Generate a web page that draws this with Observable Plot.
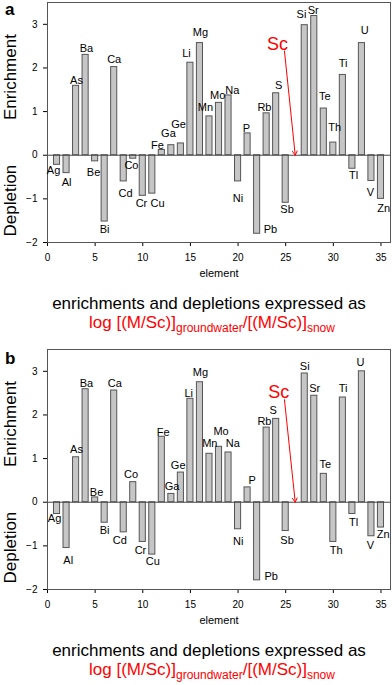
<!DOCTYPE html>
<html>
<head>
<meta charset="utf-8">
<script src="https://cdn.jsdelivr.net/npm/d3@7"></script>
<script src="https://cdn.jsdelivr.net/npm/@observablehq/plot@0.6"></script>
<style>
  html, body { margin: 0; padding: 0; background: #fff; }
  body { width: 392px; height: 685px; position: relative; overflow: hidden; font-family: "Liberation Sans", Arial, sans-serif; }
  .panel { position: absolute; left: 0; width: 392px; height: 347px; }
  .panel svg { position: absolute; left: 0; top: 0; }
  .letter { position: absolute; left: 5px; font-weight: bold; font-size: 17px; line-height: 17px; color: #000; }
  .cap1 { position: absolute; left: 13px; width: 392px; text-align: center; font-size: 17px; line-height: 19px; color: #000; white-space: nowrap; }
  .cap2 { position: absolute; left: 16px; width: 392px; text-align: center; font-size: 17px; line-height: 19px; color: #f00; white-space: nowrap; }
  .cap2 sub { font-size: 12px; vertical-align: -4px; line-height: 0; }
</style>
</head>
<body>
<script>
// ---------------- data ----------------
const elements = ["Ag","Al","As","Ba","Be","Bi","Ca","Cd","Co","Cr","Cu","Fe","Ga","Ge","Li","Mg","Mn","Mo","Na","Ni","P","Pb","Rb","S","Sb","Sc","Si","Sr","Te","Th","Ti","Tl","U","V","Zn"];
const elementIndex = elements.map((_, i) => i + 1);
const valuesA = [-0.22,-0.41,1.59,2.30,-0.14,-1.52,2.02,-0.60,-0.08,-0.93,-0.88,0.12,0.23,0.27,2.12,2.57,0.89,1.20,1.37,-0.60,0.50,-1.80,0.96,1.42,-1.09,null,2.98,3.19,1.07,0.29,1.84,-0.31,2.57,-0.59,-1.00];
const valuesB = [-0.27,-1.05,1.03,2.59,0.11,-0.47,2.56,-0.69,0.46,-0.91,-1.20,1.50,0.19,0.68,2.37,2.75,1.11,1.27,1.14,-0.62,0.34,-1.79,1.71,1.91,-0.66,null,2.95,2.44,0.65,-0.91,2.40,-0.27,3.00,-0.78,-0.58];
const xTicks = [0,5,10,15,20,25,30,35];
const yTicks = [-2,-1,0,1,2,3];
const panelLetters = ["a","b"];
const referenceElement = "Sc";

// ---------------- label nudges (px, relative to bar end) ----------------
const nudgeA = {Ag:[-3.5,5.7],Al:[0,9.3],As:[0.4,-5.7],Ba:[0.9,-6.7],Be:[-1.6,10.7],Bi:[0,8],Ca:[0,-8],Cd:[1.8,11.7],Co:[-1.8,6.7],Cr:[-1.3,8],Cu:[5.2,10.3],Fe:[-4.4,-5],Ga:[-2.9,-11.3],Ge:[-2.4,-19.3],Li:[-4,-9.7],Mg:[0.5,-10.3],Mn:[-4,-8.6],Mo:[-1.3,-7.3],Na:[3.7,-5],Ni:[0,16.6],P:[-1.1,-5],Pb:[13.3,-4],Rb:[-2.2,-5.6],S:[2.6,-8],Sb:[1.4,7],Si:[-3.3,-10.7],Sr:[-1.1,-5.4],Te:[0.9,-11.7],Th:[1.4,-14.7],Ti:[0.3,-11.4],Tl:[1.3,6.7],U:[2.8,-12.7],V:[-1,11.4],Zn:[2.8,10]};
const nudgeB = {Ag:[-2.5,4],Al:[1.7,12.7],As:[0.4,-8],Ba:[0.9,-5.7],Be:[1.4,-5],Bi:[0,7.3],Ca:[0.6,-7],Cd:[-3.9,8],Co:[-2.1,-7.3],Cr:[-2.3,9],Cu:[0.5,7.3],Fe:[1.3,-4],Ga:[0.8,-7.3],Ge:[-2.7,-7.3],Li:[-1.7,-5],Mg:[0.5,-9.7],Mn:[0.3,-10.4],Mo:[2.1,-15],Na:[4.3,-9],Ni:[0.1,11.7],P:[4.6,-7.3],Pb:[14,-3.4],Rb:[-2.2,-6.6],S:[-3,-8.7],Sb:[1.4,9],Si:[0,-6.6],Sr:[0.5,-7],Te:[1.6,-9.7],Th:[2.8,8.7],Ti:[0.3,-9],Tl:[1.3,8.7],U:[-1.5,-9],V:[-1,9.3],Zn:[2.2,7.3]};
// Sc annotation anchor (label centre and arrow start, in data units)
const scNoteA = {tx: 24.15, ty: 2.54, ax: 24.87, ay: 2.39};
const scNoteB = {tx: 24.27, ty: 2.52, ax: 24.87, ay: 2.35};

// ---------------- layout ----------------
const W = 392, H = 285;
const mL = 47, mR = 2, mT = 2, mB = 43;
const xDom = [0, 36], yDom = [-2, 3.5];
const pxX = (W - mL - mR) / (xDom[1] - xDom[0]);
const pxY = (H - mT - mB) / (yDom[1] - yDom[0]);
const font = "'Liberation Sans', Arial, sans-serif";

function makeChart(values, nudge, note) {
  const rows = elements.map((e, i) => ({name: e, x: elementIndex[i], v: values[i]}));
  const bars = rows.filter(d => d.v != null);
  const labels = bars.map(d => {
    const n = nudge[d.name] || [0, d.v >= 0 ? -7 : 8];
    return {name: d.name, lx: d.x + n[0] / pxX, ly: d.v - n[1] / pxY};
  });
  return Plot.plot({
    width: W, height: H,
    marginLeft: mL, marginRight: mR, marginTop: mT, marginBottom: mB,
    style: {fontFamily: font, fontSize: "10px", color: "#000", background: "#fff", overflow: "visible"},
    x: {domain: xDom, ticks: xTicks, tickSize: 4, tickPadding: 7, label: null, tickFormat: d3.format("d")},
    y: {domain: yDom, ticks: yTicks, tickSize: 4, tickPadding: 6, label: null, tickFormat: d3.format("d")},
    marks: [
      Plot.rect(bars, {x1: d => d.x - 0.32, x2: d => d.x + 0.32, y1: 0, y2: "v", fill: "#c6c6c6", stroke: "#555", strokeWidth: 1}),
      Plot.ruleY([0], {stroke: "#444", strokeWidth: 1}),
      Plot.frame({stroke: "#555", strokeWidth: 1}),
      Plot.text(labels, {x: "lx", y: "ly", text: "name", fontSize: 11, fill: "#000"}),
      Plot.arrow([note], {x1: "ax", y1: "ay", x2: () => elementIndex[elements.indexOf(referenceElement)], y2: () => 0, stroke: "#f00", strokeWidth: 1, headLength: 7, bend: 0}),
      Plot.text([note], {x: "tx", y: "ty", text: () => referenceElement, fill: "#f00", fontSize: 18}),
      Plot.text(["element"], {frameAnchor: "bottom", dy: 34, fontSize: 11, fill: "#000"}),
      Plot.text(["Enrichment"], {x: xDom[0], y: 1.79, dx: -37, rotate: -90, fontSize: 17, fill: "#000"}),
      Plot.text(["Depletion"], {x: xDom[0], y: -1.04, dx: -37, rotate: -90, fontSize: 17, fill: "#000"})
    ]
  });
}

const panels = [
  {values: valuesA, nudge: nudgeA, note: scNoteA, top: 0},
  {values: valuesB, nudge: nudgeB, note: scNoteB, top: 347}
];
panels.forEach((p, i) => {
  const div = document.createElement("div");
  div.className = "panel";
  div.style.top = p.top + "px";
  div.appendChild(makeChart(p.values, p.nudge, p.note));
  const letter = document.createElement("div");
  letter.className = "letter";
  letter.style.top = (i === 0 ? 1 : 3) + "px";
  letter.textContent = panelLetters[i];
  div.appendChild(letter);
  const c1 = document.createElement("div");
  c1.className = "cap1";
  c1.style.top = "294px";
  c1.textContent = "enrichments and depletions expressed as";
  div.appendChild(c1);
  const c2 = document.createElement("div");
  c2.className = "cap2";
  c2.style.top = "313px";
  c2.innerHTML = "log [(M/Sc)]<sub>groundwater</sub>/[(M/Sc)]<sub>snow</sub>";
  div.appendChild(c2);
  document.body.appendChild(div);
});
</script>
</body>
</html>
